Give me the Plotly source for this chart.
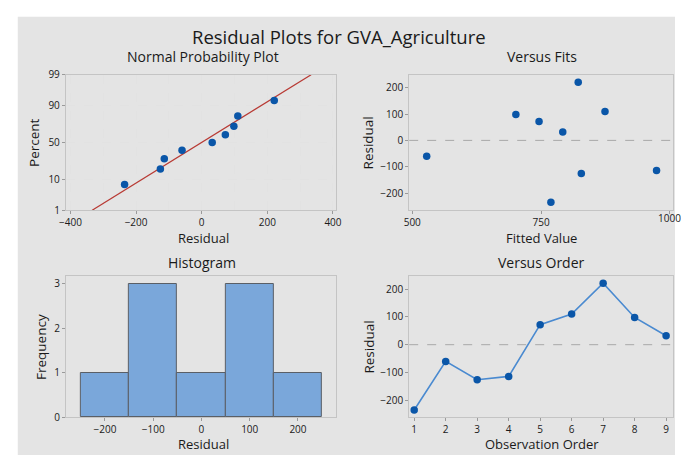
import numpy as np
import plotly.graph_objects as go
from statistics import NormalDist

# ---------------- data ----------------
observation = [1, 2, 3, 4, 5, 6, 7, 8, 9]
residuals = [-235, -60, -126, -114, 72, 110, 221, 98, 32]
fitted = [769, 528, 828, 974, 746, 874, 822, 701, 792]
percent_ticks = [1, 10, 50, 90, 99]
fit_ticks = [500, 750, 1000]
hist_bin_start, hist_bin_end, hist_bin_size = -250, 250, 100

# ---------------- derived (normal probability plot) ----------------
nd = NormalDist()
n = len(residuals)
sorted_res = sorted(residuals)
pp = [(i - 0.3) / (n + 0.4) for i in range(1, n + 1)]
pz = [nd.inv_cdf(p) for p in pp]
mu = float(np.mean(residuals))
sd = float(np.std(residuals, ddof=1))
zlo, zhi = nd.inv_cdf(0.01), nd.inv_cdf(0.99)
line_x = [mu + zlo * sd, mu + zhi * sd]
line_z = [zlo, zhi]
tick_z = [nd.inv_cdf(p / 100) for p in percent_ticks]

W, H = 681, 462
def px(x):
    return x / W
def py(y):
    return 1 - y / H

BLUE = "#0a56a8"
FONT = "Open Sans"
TXT = "#1a1a1a"

# layout domains (pixels)
LX = [60, 335]
RX = [410, 679]
TY = [69, 209]
BY = [277, 423]

fig = go.Figure()

# Panel 1: normal probability plot
fig.add_trace(go.Scatter(x=line_x, y=line_z, mode="lines",
                         line=dict(color="#b83a34", width=1.3),
                         xaxis="x", yaxis="y", showlegend=False, hoverinfo="skip"))
fig.add_trace(go.Scatter(x=sorted_res, y=pz, mode="markers",
                         marker=dict(color=BLUE, size=7.5),
                         xaxis="x", yaxis="y", showlegend=False))

# Panel 2: versus fits
fig.add_trace(go.Scatter(x=fitted, y=residuals, mode="markers",
                         marker=dict(color=BLUE, size=7.5),
                         xaxis="x2", yaxis="y2", showlegend=False))

# Panel 3: histogram
fig.add_trace(go.Histogram(x=residuals,
                           xbins=dict(start=hist_bin_start, end=hist_bin_end, size=hist_bin_size),
                           marker=dict(color="#7aa7da", line=dict(color="#5a5f66", width=1)),
                           xaxis="x3", yaxis="y3", showlegend=False))

# Panel 4: versus order
fig.add_trace(go.Scatter(x=observation, y=residuals, mode="lines+markers",
                         line=dict(color="#4a8ad0", width=1.6),
                         marker=dict(color=BLUE, size=7.5),
                         xaxis="x4", yaxis="y4", showlegend=False))

axis_common = dict(showline=True, mirror=True, linecolor="#c4c4c4", linewidth=1,
                   ticks="outside", ticklen=3, tickcolor="#9a9a9a",
                   tickfont=dict(family=FONT, size=10, color=TXT),
                   zeroline=False, showgrid=False, fixedrange=True)

grid_dash = dict(showgrid=True, gridcolor="#e2e2e2", griddash="dash", gridwidth=1)

def ax(**kw):
    d = dict(axis_common)
    d.update(kw)
    return d

fig.update_layout(
    width=W, height=H,
    margin=dict(l=0, r=0, t=0, b=0),
    paper_bgcolor="white",
    plot_bgcolor="white",
    bargap=0,
    xaxis=ax(domain=[px(LX[0]), px(LX[1])], anchor="y",
             range=[-414, 408], tickvals=[-400, -200, 0, 200, 400],
             **grid_dash,
             minor=dict(dtick=100, tick0=0, showgrid=True, gridcolor="#e2e2e2",
                        griddash="dash", ticks="")),
    yaxis=ax(domain=[py(TY[1]), py(TY[0])], anchor="x",
             range=[zlo, zhi], tickvals=tick_z, ticktext=[str(p) for p in percent_ticks],
             **grid_dash),
    xaxis2=ax(domain=[px(RX[0]), px(RX[1])], anchor="y2",
              range=[494, 1006], tickvals=fit_ticks),
    yaxis2=ax(domain=[py(TY[1]), py(TY[0])], anchor="x2",
              range=[-265, 249], tickvals=[-200, -100, 0, 100, 200]),
    xaxis3=ax(domain=[px(LX[0]), px(LX[1])], anchor="y3",
              range=[-281, 278], tickvals=[-200, -100, 0, 100, 200]),
    yaxis3=ax(domain=[py(BY[1]), py(BY[0])], anchor="x3",
              range=[0, 3.17], tickvals=[0, 1, 2, 3]),
    xaxis4=ax(domain=[px(RX[0]), px(RX[1])], anchor="y4",
              range=[0.84, 9.22], tickvals=observation),
    yaxis4=ax(domain=[py(BY[1]), py(BY[0])], anchor="x4",
              range=[-261, 247], tickvals=[-200, -100, 0, 100, 200]),
)

# grey background panel
fig.add_shape(type="rect", xref="paper", yref="paper",
              x0=px(11), x1=1.0, y0=0.0, y1=py(9),
              fillcolor="#e4e4e4", line=dict(width=0), layer="below")

# zero reference lines
for xa, ya in (("x2", "y2"), ("x4", "y4")):
    fig.add_shape(type="line", xref=f"{xa} domain", yref=ya, x0=0, x1=1, y0=0, y1=0,
                  line=dict(color="#a8a8a8", width=1, dash="dash"))

# last Fitted-Value tick label (runs off the right edge, as in the reference)
fig.add_annotation(text=str(fit_ticks[-1]), x=fit_ticks[-1], xref="x2",
                   y=py(217), yref="paper", showarrow=False, borderpad=0,
                   font=dict(family=FONT, size=10, color=TXT),
                   xanchor="center", yanchor="middle")

def ann(text, x, y, size, angle=0):
    fig.add_annotation(text=text, x=px(x), y=py(y), xref="paper", yref="paper",
                       showarrow=False, textangle=angle, borderpad=0,
                       font=dict(family=FONT, size=size, color=TXT),
                       xanchor="center", yanchor="middle")

ann("Residual Plots for GVA_Agriculture", 338, 29, 18.5)
ann("Normal Probability Plot", 200, 50, 14)
ann("Versus Fits", 545, 50, 14)
ann("Histogram", 199, 263, 14)
ann("Versus Order", 545, 263, 14)

ann("Residual", 200, 238, 13)
ann("Fitted Value", 545, 238, 13)
ann("Residual", 200, 451, 13)
ann("Observation Order", 545, 451, 13)

ann("Percent", 28, 139, 13.5, -90)
ann("Residual", 369, 139, 13.5, -90)
ann("Frequency", 34, 350, 13.5, -90)
ann("Residual", 369, 350, 13.5, -90)

fig.write_html("out.html")
